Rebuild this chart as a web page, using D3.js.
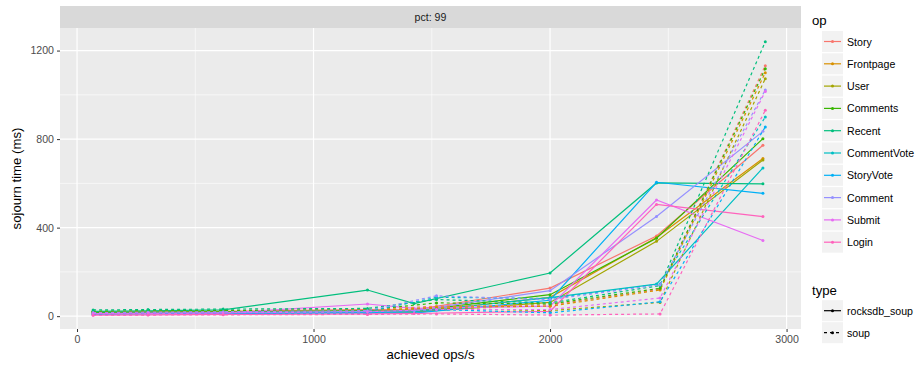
<!DOCTYPE html>
<html>
<head>
<meta charset="utf-8">
<script src="https://cdn.jsdelivr.net/npm/d3@7"></script>
<style>
  body { margin: 0; background: #fff; }
  svg { display: block; font-family: "Liberation Sans", Arial, sans-serif; }
</style>
</head>
<body>
<svg id="chart" width="924" height="366"></svg>
<script>
// Operation names and their colours
const ops = ["Story", "Frontpage", "User", "Comments", "Recent", "CommentVote", "StoryVote", "Comment", "Submit", "Login"];
const opColors = ["#F8766D", "#D89000", "#A3A500", "#39B600", "#00BF7D", "#00BFC4", "#00B0F6", "#9590FF", "#E76BF3", "#FF62BC"];
const types = ["rocksdb_soup", "soup"];

// Achieved throughput (ops/s) for each run
const xRocks = [68, 300, 618, 1228, 1425, 2000, 2450, 2900];
const xSoup  = [68, 300, 618, 1228, 1520, 2000, 2465, 2910];

// 99th percentile sojourn time (ms), rocksdb_soup
const rocksStory       = [18, 20, 22, 30, 28, 127, 362, 772];
const rocksFrontpage   = [15, 16, 18, 22, 20, 85, 355, 712];
const rocksUser        = [14, 15, 16, 20, 18, 62, 338, 706];
const rocksComments    = [17, 18, 20, 25, 24, 97, 352, 802];
const rocksRecent      = [22, 24, 28, 118, 57, 195, 602, 598];
const rocksCommentVote = [10, 12, 14, 18, 20, 84, 145, 670];
const rocksStoryVote   = [8, 10, 12, 15, 14, 72, 605, 555];
const rocksComment     = [12, 14, 16, 22, 25, 115, 450, 835];
const rocksSubmit      = [10, 12, 14, 55, 35, 45, 525, 342];
const rocksLogin       = [5, 6, 8, 10, 12, 22, 505, 450];

// 99th percentile sojourn time (ms), soup
const soupStory       = [20, 22, 25, 30, 45, 50, 122, 1132];
const soupFrontpage   = [18, 20, 22, 25, 40, 45, 118, 1100];
const soupUser        = [15, 18, 20, 22, 35, 25, 62, 1073];
const soupComments    = [22, 24, 26, 28, 60, 55, 126, 1118];
const soupRecent      = [28, 30, 32, 35, 75, 60, 138, 1240];
const soupCommentVote = [14, 16, 18, 20, 85, 80, 145, 900];
const soupStoryVote   = [10, 12, 14, 15, 30, 15, 65, 855];
const soupComment     = [16, 18, 20, 25, 92, 75, 142, 1022];
const soupSubmit      = [12, 14, 15, 20, 30, 30, 82, 1015];
const soupLogin       = [4, 5, 6, 8, 10, 5, 10, 930];

const rocksValues = [rocksStory, rocksFrontpage, rocksUser, rocksComments, rocksRecent, rocksCommentVote, rocksStoryVote, rocksComment, rocksSubmit, rocksLogin];
const soupValues  = [soupStory, soupFrontpage, soupUser, soupComments, soupRecent, soupCommentVote, soupStoryVote, soupComment, soupSubmit, soupLogin];

const xTicks = [0, 1000, 2000, 3000];
const yTicks = [0, 400, 800, 1200];
const xMinor = [500, 1500, 2500];
const yMinor = [200, 600, 1000];

const stripLabel = "pct: 99";
const xTitle = "achieved ops/s";
const yTitle = "sojourn time (ms)";

// Build series
const series = [];
types.forEach((t, ti) => {
  const xs = ti === 0 ? xRocks : xSoup;
  const vals = ti === 0 ? rocksValues : soupValues;
  ops.forEach((op, oi) => {
    series.push({
      op, type: t, color: opColors[oi],
      points: xs.map((x, i) => ({ x, y: vals[oi][i] }))
    });
  });
});

const svg = d3.select("#chart");
const panel = { left: 60, right: 801, top: 28, bottom: 329 };

const x = d3.scaleLinear().domain([-72, 3061]).range([panel.left, panel.right]);
const y = d3.scaleLinear().domain([-58, 1302]).range([panel.bottom, panel.top]);

// Strip
svg.append("rect")
  .attr("x", panel.left).attr("y", 6)
  .attr("width", panel.right - panel.left).attr("height", panel.top - 6)
  .attr("fill", "#D9D9D9");
svg.append("text")
  .attr("x", (panel.left + panel.right) / 2).attr("y", 17)
  .attr("text-anchor", "middle").attr("dominant-baseline", "central")
  .attr("font-size", 10.6).attr("fill", "#1A1A1A")
  .text(stripLabel);

// Panel background
svg.append("rect")
  .attr("x", panel.left).attr("y", panel.top)
  .attr("width", panel.right - panel.left).attr("height", panel.bottom - panel.top)
  .attr("fill", "#EBEBEB");

const grid = svg.append("g");
grid.selectAll(".vminor").data(xMinor).enter().append("line")
  .attr("x1", d => x(d)).attr("x2", d => x(d))
  .attr("y1", panel.top).attr("y2", panel.bottom)
  .attr("stroke", "#fff").attr("stroke-width", 0.6);
grid.selectAll(".hminor").data(yMinor).enter().append("line")
  .attr("y1", d => y(d)).attr("y2", d => y(d))
  .attr("x1", panel.left).attr("x2", panel.right)
  .attr("stroke", "#fff").attr("stroke-width", 0.6);
grid.selectAll(".vmajor").data(xTicks).enter().append("line")
  .attr("x1", d => x(d)).attr("x2", d => x(d))
  .attr("y1", panel.top).attr("y2", panel.bottom)
  .attr("stroke", "#fff").attr("stroke-width", 1.2);
grid.selectAll(".hmajor").data(yTicks).enter().append("line")
  .attr("y1", d => y(d)).attr("y2", d => y(d))
  .attr("x1", panel.left).attr("x2", panel.right)
  .attr("stroke", "#fff").attr("stroke-width", 1.2);

// Axes
const xAxis = svg.append("g")
  .attr("transform", `translate(0,${panel.bottom})`)
  .call(d3.axisBottom(x).tickValues(xTicks).tickSize(3).tickPadding(3).tickFormat(d3.format("d")));
const yAxis = svg.append("g")
  .attr("transform", `translate(${panel.left},0)`)
  .call(d3.axisLeft(y).tickValues(yTicks).tickSize(3).tickPadding(3).tickFormat(d3.format("d")));
[xAxis, yAxis].forEach(a => {
  a.select(".domain").remove();
  a.selectAll(".tick line").attr("stroke", "#333333").attr("stroke-width", 1);
  a.selectAll(".tick text").attr("fill", "#4D4D4D").attr("font-size", 10.6)
    .attr("font-family", "Liberation Sans, Arial, sans-serif");
});

svg.append("text")
  .attr("x", (panel.left + panel.right) / 2).attr("y", 359)
  .attr("text-anchor", "middle").attr("font-size", 13.2).attr("fill", "#000")
  .text(xTitle);
svg.append("text")
  .attr("transform", `translate(21,${(panel.top + panel.bottom) / 2}) rotate(-90)`)
  .attr("text-anchor", "middle").attr("font-size", 13.2).attr("fill", "#000")
  .text(yTitle);

// Lines and points
const line = d3.line().x(d => x(d.x)).y(d => y(d.y));
const plot = svg.append("g");
series.forEach(s => {
  plot.append("path")
    .datum(s.points)
    .attr("d", line)
    .attr("fill", "none")
    .attr("stroke", s.color)
    .attr("stroke-width", 1.2)
    .attr("stroke-dasharray", s.type === "soup" ? "3,3" : null);
  plot.selectAll(null).data(s.points).enter().append("circle")
    .attr("cx", d => x(d.x)).attr("cy", d => y(d.y))
    .attr("r", 1.5).attr("fill", s.color);
});

// Legend: op
const leg = svg.append("g");
leg.append("text").attr("x", 812).attr("y", 25).attr("font-size", 13.2).attr("fill", "#000").text("op");
ops.forEach((op, i) => {
  const cy = 41.5 + i * 22.3;
  leg.append("rect").attr("x", 822).attr("y", cy - 10.5).attr("width", 21).attr("height", 21).attr("fill", "#F2F2F2");
  leg.append("line").attr("x1", 824).attr("x2", 841).attr("y1", cy).attr("y2", cy)
    .attr("stroke", opColors[i]).attr("stroke-width", 1.2);
  leg.append("circle").attr("cx", 832.5).attr("cy", cy).attr("r", 1.5).attr("fill", opColors[i]);
  leg.append("text").attr("x", 847).attr("y", cy).attr("dominant-baseline", "central")
    .attr("font-size", 10.6).attr("fill", "#000").text(op);
});

// Legend: type
leg.append("text").attr("x", 812).attr("y", 295).attr("font-size", 13.2).attr("fill", "#000").text("type");
types.forEach((t, i) => {
  const cy = 310.7 + i * 22;
  leg.append("rect").attr("x", 822).attr("y", cy - 10.5).attr("width", 21).attr("height", 21).attr("fill", "#F2F2F2");
  leg.append("line").attr("x1", 824).attr("x2", 841).attr("y1", cy).attr("y2", cy)
    .attr("stroke", "#000").attr("stroke-width", 1.2)
    .attr("stroke-dasharray", t === "soup" ? "3,3" : null);
  leg.append("circle").attr("cx", 832.5).attr("cy", cy).attr("r", 1.5).attr("fill", "#000");
  leg.append("text").attr("x", 847).attr("y", cy).attr("dominant-baseline", "central")
    .attr("font-size", 10.6).attr("fill", "#000").text(t);
});
</script>
</body>
</html>
